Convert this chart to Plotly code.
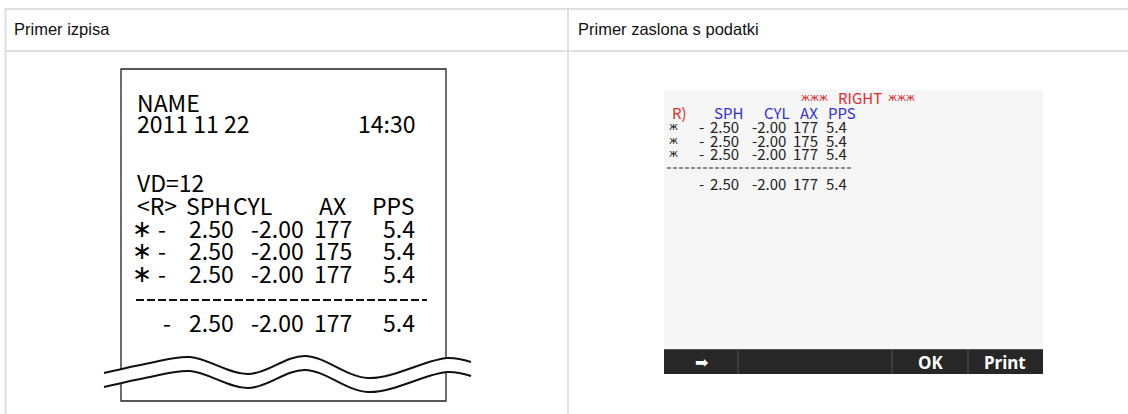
import plotly.graph_objects as go

# ---------------- data ----------------
headers = ["Primer izpisa", "Primer zaslona s podatki"]
print_name = "NAME"
print_date = "2011 11 22"
print_time = "14:30"
print_vd = "VD=12"
col_labels = ["SPH", "CYL", "AX", "PPS"]
sph_values = [-2.50, -2.50, -2.50]
cyl_values = [-2.00, -2.00, -2.00]
ax_values = [177, 175, 177]
pps_values = [5.4, 5.4, 5.4]
avg_sph = -2.50
avg_cyl = -2.00
avg_ax = 177
avg_pps = 5.4
screen_title = ["жжж", "RIGHT", "жжж"]
screen_eye = "R)"
buttons = ["➡", "", "OK", "Print"]

# wave decoration (page pixel coordinates)
wave_x = [104, 150, 190, 248, 305, 368, 447, 471]
wave_top_y = [373, 363, 357, 374, 356, 378, 358, 362]
wave_gap = 14

W, H = 1128, 414
NARROW = "Noto Sans CJK JP, Roboto, sans-serif"
SANS = "Liberation Sans, Arial, sans-serif"

fig = go.Figure()

# wave lines (white band hides receipt edge)
fig.add_trace(go.Scatter(x=wave_x, y=wave_top_y, mode="lines",
                         line=dict(color="#111", width=2, shape="spline"),
                         hoverinfo="skip", showlegend=False))
fig.add_trace(go.Scatter(x=wave_x, y=[v + wave_gap for v in wave_top_y], mode="lines",
                         line=dict(color="#111", width=2, shape="spline"),
                         fill="tonexty", fillcolor="white",
                         hoverinfo="skip", showlegend=False))

shapes = []
grid = "#e0e0e0"
# table grid
shapes.append(dict(type="line", x0=5, x1=W, y0=9, y1=9, line=dict(color=grid, width=2)))
shapes.append(dict(type="line", x0=5, x1=W, y0=51, y1=51, line=dict(color=grid, width=2)))
shapes.append(dict(type="line", x0=5.5, x1=5.5, y0=8, y1=H, line=dict(color=grid, width=2)))
shapes.append(dict(type="line", x0=568, x1=568, y0=8, y1=H, line=dict(color=grid, width=2)))

# receipt
shapes.append(dict(type="rect", x0=121, x1=446, y0=69, y1=401, layer="below",
                   line=dict(color="#222", width=1.3), fillcolor="white"))
shapes.append(dict(type="line", x0=136, x1=427, y0=300, y1=300, layer="below",
                   line=dict(color="#111", width=2, dash="8px,3px")))

# screen
shapes.append(dict(type="rect", x0=664, x1=1043, y0=90, y1=349,
                   line=dict(width=0), fillcolor="#f6f6f6", layer="below"))
shapes.append(dict(type="rect", x0=664, x1=1043, y0=349, y1=374,
                   line=dict(width=0), fillcolor="#272727", layer="below"))
for bx in [738, 892, 968]:
    shapes.append(dict(type="line", x0=bx, x1=bx, y0=349, y1=374,
                       line=dict(color="#555", width=1)))
shapes.append(dict(type="line", x0=664, x1=1043, y0=349.5, y1=349.5,
                   line=dict(color="#555", width=1)))
shapes.append(dict(type="line", x0=667, x1=851, y0=168, y1=168,
                   line=dict(color="#222", width=1, dash="4px,2px")))

ann = []


def t(x, y, s, size, color="#000", anchor="left", family=NARROW, bold=False):
    if bold:
        s = "<b>" + s + "</b>"
    ann.append(dict(x=x, y=y, text=s, showarrow=False, xanchor=anchor, yanchor="middle",
                    font=dict(family=family, size=size, color=color)))


# headers
t(12, 29, headers[0], 16.5, "#111", family=SANS)
t(576, 29, headers[1], 16.5, "#111", family=SANS)

# receipt text
RS = 23
t(135, 102, print_name, RS)
t(135, 123, print_date, RS)
t(417, 123, print_time, RS, anchor="right")
t(135, 182, print_vd, RS)
t(135, 205, "&lt;R&gt;", RS)
t(184, 205, col_labels[0], RS)
t(231, 205, col_labels[1], RS)
t(348, 205, col_labels[2], RS, anchor="right")
t(417, 205, col_labels[3], RS, anchor="right")


def fmt_sph(v):
    return "%.2f" % abs(v)


for i, y in enumerate([228, 250, 273]):
    t(142, y + 1, "∗", 24, anchor="center", family="DejaVu Sans")
    t(162, y, "-" if sph_values[i] < 0 else "+", RS, anchor="center")
    t(236, y, fmt_sph(sph_values[i]), RS, anchor="right")
    t(306, y, "%.2f" % cyl_values[i], RS, anchor="right")
    t(354, y, "%d" % ax_values[i], RS, anchor="right")
    t(417, y, "%.1f" % pps_values[i], RS, anchor="right")
y = 322
t(167, y, "-" if avg_sph < 0 else "+", RS, anchor="center")
t(236, y, fmt_sph(avg_sph), RS, anchor="right")
t(306, y, "%.2f" % avg_cyl, RS, anchor="right")
t(354, y, "%d" % avg_ax, RS, anchor="right")
t(417, y, "%.1f" % avg_pps, RS, anchor="right")

# screen text
SS = 15
RED = "#e02b2b"
BLUE = "#2f2fd6"
t(799, 97, screen_title[0], 10, RED, family="DejaVu Sans")
t(836, 97, screen_title[1], SS, RED)
t(886, 97, screen_title[2], 10, RED, family="DejaVu Sans")
t(670, 112, screen_eye, SS, RED)
t(712, 112, col_labels[0], SS, BLUE)
t(762, 112, col_labels[1], SS, BLUE)
t(820, 112, col_labels[2], SS, BLUE, anchor="right")
t(826, 112, col_labels[3], SS, BLUE)
DARK = "#222222"
for i, y in enumerate([126, 140, 153]):
    t(673, y, "ж", 10, DARK, anchor="center", family="DejaVu Sans")
    t(701, y, "-" if sph_values[i] < 0 else "+", SS, DARK, anchor="center")
    t(741, y, fmt_sph(sph_values[i]), SS, DARK, anchor="right")
    t(788, y, "%.2f" % cyl_values[i], SS, DARK, anchor="right")
    t(820, y, "%d" % ax_values[i], SS, DARK, anchor="right")
    t(849, y, "%.1f" % pps_values[i], SS, DARK, anchor="right")
y = 183
t(701, y, "-" if avg_sph < 0 else "+", SS, DARK, anchor="center")
t(741, y, fmt_sph(avg_sph), SS, DARK, anchor="right")
t(788, y, "%.2f" % avg_cyl, SS, DARK, anchor="right")
t(820, y, "%d" % avg_ax, SS, DARK, anchor="right")
t(849, y, "%.1f" % avg_pps, SS, DARK, anchor="right")

# buttons
bx_centers = [701, 815, 930, 1005]
for bxc, lab in zip(bx_centers, buttons):
    if lab:
        t(bxc, 362, lab, 17 if lab != "➡" else 16, "#ffffff", anchor="center",
          family="Noto Sans, DejaVu Sans, sans-serif", bold=(lab != "➡"))

fig.update_layout(
    width=W, height=H, margin=dict(l=0, r=0, t=0, b=0),
    paper_bgcolor="white", plot_bgcolor="white",
    xaxis=dict(range=[0, W], visible=False, fixedrange=True),
    yaxis=dict(range=[H, 0], visible=False, fixedrange=True),
    shapes=shapes, annotations=ann, showlegend=False,
)
fig.write_html("out.html", config={"displayModeBar": False},
               post_script="document.body.style.margin='0px';")
